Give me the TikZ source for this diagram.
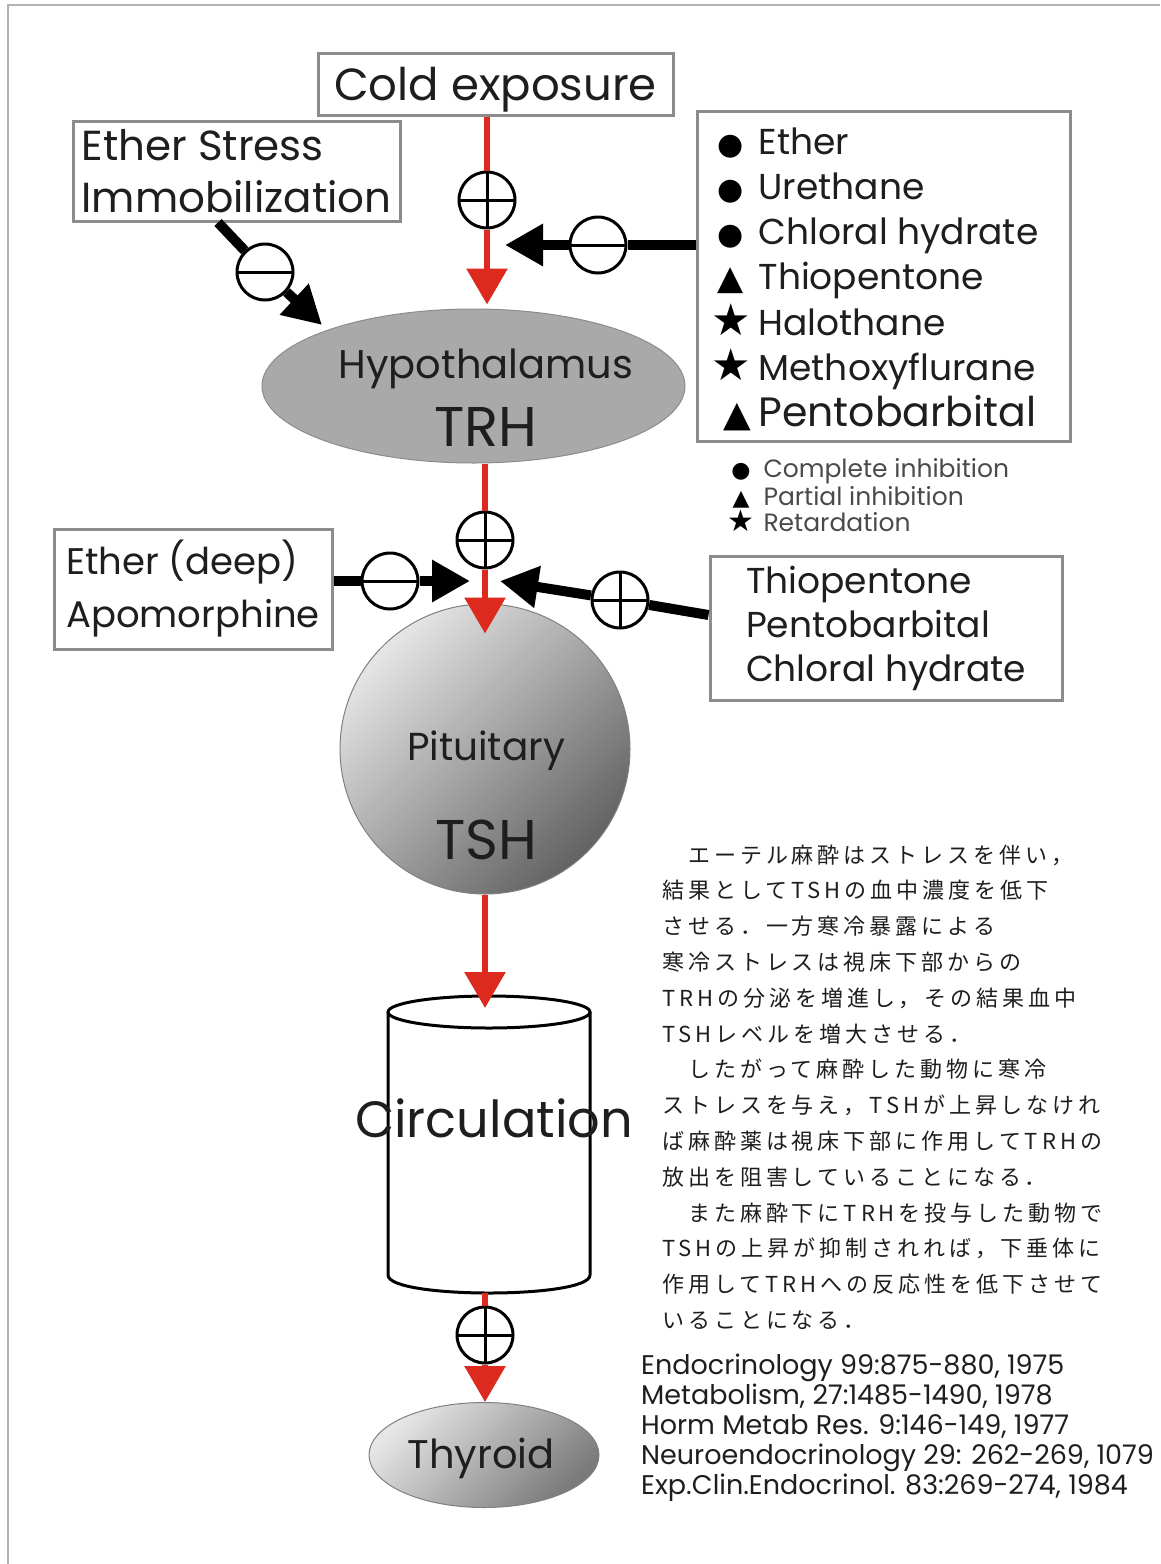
\documentclass[tikz,border=0pt]{standalone}
\usepackage{fontspec}
\setmainfont{Poppins}
\newfontfamily\jpfont[LetterSpace=18]{Noto Sans CJK JP}
\newfontfamily\symfont{DejaVu Sans}
\usetikzlibrary{arrows.meta,shapes.geometric}
\definecolor{arrowred}{HTML}{DC2A1E}
\definecolor{boxgray}{HTML}{8C8C8C}
\definecolor{hypogray}{HTML}{A9A9A9}
\definecolor{shadelight}{HTML}{E6E6E6}
\definecolor{shadedark}{HTML}{626262}
\definecolor{inkgray}{HTML}{1E1E1E}
\definecolor{legendgray}{HTML}{4A4A4A}
\newcommand{\fsz}[1]{\fontsize{#1}{#1}\selectfont}

\tikzset{
  box/.style={draw=boxgray, line width=3pt, fill=white, inner sep=0pt, text=inkgray},
  redline/.style={draw=arrowred, line width=6pt},
  redarr/.style={redline, -{Triangle[width=40pt,length=36pt]}},
  blkline/.style={line width=10pt},
  blkarr/.style={blkline, -{Triangle[width=40pt,length=38pt]}},
  sign/.style={circle, draw, line width=3pt, fill=white, minimum size=56pt, inner sep=0pt},
  plussign/.style={sign, path picture={\draw[line width=3pt]
      (path picture bounding box.north) -- (path picture bounding box.south)
      (path picture bounding box.west) -- (path picture bounding box.east);}},
  minussign/.style={sign, path picture={\draw[line width=3pt]
      (path picture bounding box.west) -- (path picture bounding box.east);}},
}

\begin{document}
\begin{tikzpicture}[x=1pt, y=-1pt]
    \useasboundingbox (0,0) rectangle (1160,1564);
    \draw[gray!60, line width=2pt] (8,1564) -- (8,5) -- (1160,5);

    % boxes
    \node[box, minimum width=355pt, minimum height=62pt, text depth=0pt, font=\fsz{45}] (cold) at (495.5,84) {Cold exposure};
    \node[box, minimum width=327pt, minimum height=100pt, align=left,
          font=\fontsize{42}{52}\selectfont] (stress) at (236.5,171) {Ether Stress\\Immobilization};
    \node[box, minimum width=373pt, minimum height=330pt] (drugs) at (883.5,276) {};
    \node[box, minimum width=278pt, minimum height=120pt, align=left,
          font=\fontsize{37}{53}\selectfont] (deep) at (193,589) {Ether (deep)\\Apomorphine};
    \node[box, minimum width=352pt, minimum height=144pt, align=left,
          font=\fontsize{36}{44}\selectfont] (thio) at (886,628) {Thiopentone\\Pentobarbital\\Chloral hydrate};

    % drug list and legend
    \foreach \s/\f/\t/\y [count=\i] in {●/30/Ether/154, ●/30/Urethane/199, ●/30/Chloral hydrate/244,
                                        ▲/34/Thiopentone/289, ★/44/Halothane/335, ★/44/Methoxyflurane/380}{
        \node[anchor=base, font=\symfont\fsz{\f}] (sym\i) at (731,\y) {\s};
        \node[anchor=base west, font=\fsz{36}, text=inkgray] (drug\i) at (755,\y) {\t};
    }
    \node[anchor=base, font=\symfont\fsz{36}] (sym7) at (737,426) {▲};
    \node[anchor=base west, font=\fsz{41}, text=inkgray] (drug7) at (755,426) {Pentobarbital};
    \foreach \s/\f/\t/\y [count=\i] in {●/22/Complete inhibition/477, ▲/22/Partial inhibition/505, ★/30/Retardation/531}{
        \node[anchor=base, font=\symfont\fsz{\f}] (key\i) at (741,\y) {\s};
        \node[anchor=base west, font=\fsz{25}, text=legendgray] (keytxt\i) at (760,\y) {\t};
    }

    % organs
    \node[ellipse, draw=boxgray, line width=1pt, fill=hypogray, minimum width=423pt, minimum height=154pt] (hypo) at (473.5,386) {};
    \node[anchor=base, font=\fsz{40}, text=inkgray] (hyponame) at (486,378) {Hypothalamus};
    \node[anchor=base, font=\fsz{56}, text=inkgray] (trh) at (486,446) {TRH};

    \node[circle, draw=gray, line width=1pt, minimum size=290pt, top color=shadelight, bottom color=shadedark, shading angle=45] (pit) at (485,749) {};
    \node[anchor=base, font=\fsz{39}, text=inkgray] (pitname) at (486,760) {Pituitary};
    \node[anchor=base, font=\fsz{56}, text=inkgray] (tsh) at (486,859) {TSH};

    \draw[line width=3pt] (489,1012) ellipse [x radius=101pt, y radius=16pt];
    \draw[line width=3pt] (388,1012) -- (388,1275) .. controls (388,1299) and (590,1299) .. (590,1275) -- (590,1012);
    \coordinate (cyltop) at (485,1008);
    \coordinate (cylbot) at (485,1293);
    \node[anchor=base, font=\fsz{51}, text=inkgray] (circ) at (494,1137) {Circulation};

    \node[ellipse, draw=gray, line width=1pt, minimum width=230pt, minimum height=105pt, top color=shadelight, bottom color=shadedark!85!white, shading angle=45] (thy) at (484,1455) {};
    \node[anchor=base, font=\fsz{40}, text=inkgray] (thyname) at (481,1468) {Thyroid};

    % signs
    \node[plussign] (pA) at (487,200) {};
    \node[minussign] (mA) at (598,245) {};
    \node[minussign] (mB) at (265,272) {};
    \node[plussign] (pB) at (485,540) {};
    \node[minussign] (mC) at (390,581) {};
    \node[plussign] (pC) at (620,600) {};
    \node[plussign] (pD) at (485,1335) {};
    \coordinate (tipA) at (505,245);
    \coordinate (tipB) at (322,325);
    \coordinate (tipC) at (470,581);
    \coordinate (tipD) at (500,581);

    % connectors
    \draw[redline] (cold.south -| pA) -- (pA);
    \draw[redarr] (pA) -- ([yshift=4pt]hypo.north -| pA);
    \draw[blkline] (drugs.west |- mA) -- (mA);
    \draw[blkarr] (mA) -- (tipA);
    \draw[blkline] (218,0 |- stress.south) -- (mB);
    \draw[blkarr] (mB) -- (tipB);
    \draw[redline] (hypo.south -| pB) -- (pB);
    \draw[redarr] (pB) -- ([yshift=-30pt]pit.north);
    \draw[blkline] (deep.east |- mC) -- (mC);
    \draw[blkarr] (mC) -- (tipC);
    \draw[blkline] (thio.west |- 0,615) -- (pC);
    \draw[blkarr] (pC) -- (tipD);
    \draw[redarr] (pit.south) -- (cyltop);
    \draw[redline] (cylbot) -- (pD);
    \draw[redarr] (pD) -- (thy.north -| pD);

    % Japanese note
    \foreach \t [count=\i from 0] in {　エーテル麻酔はストレスを伴い，, 結果としてTSHの血中濃度を低下,
        させる．一方寒冷暴露による, 寒冷ストレスは視床下部からの, TRHの分泌を増進し，その結果血中,
        TSHレベルを増大させる．, 　したがって麻酔した動物に寒冷, ストレスを与え，TSHが上昇しなけれ,
        ば麻酔薬は視床下部に作用してTRHの, 放出を阻害していることになる．, 　また麻酔下にTRHを投与した動物で,
        TSHの上昇が抑制されれば，下垂体に, 作用してTRHへの反応性を低下させて, いることになる．}{
        \node[anchor=base west, font=\jpfont\fsz{22}, text=inkgray, inner sep=0pt] (jp\i) at (662,{863+35.8*\i}) {\t};
    }

    % references
    \foreach \t [count=\i from 0] in {{Endocrinology 99:875-880, 1975}, {Metabolism, 27:1485-1490, 1978},
        {Horm Metab Res. 9:146-149, 1977}, {Neuroendocrinology 29: 262-269, 1079},
        {Exp.Clin.Endocrinol. 83:269-274, 1984}}{
        \node[anchor=base west, font=\fsz{27}, text=inkgray, inner sep=0pt] (ref\i) at (641,{1374+30.2*\i}) {\t};
    }
\end{tikzpicture}
\end{document}
